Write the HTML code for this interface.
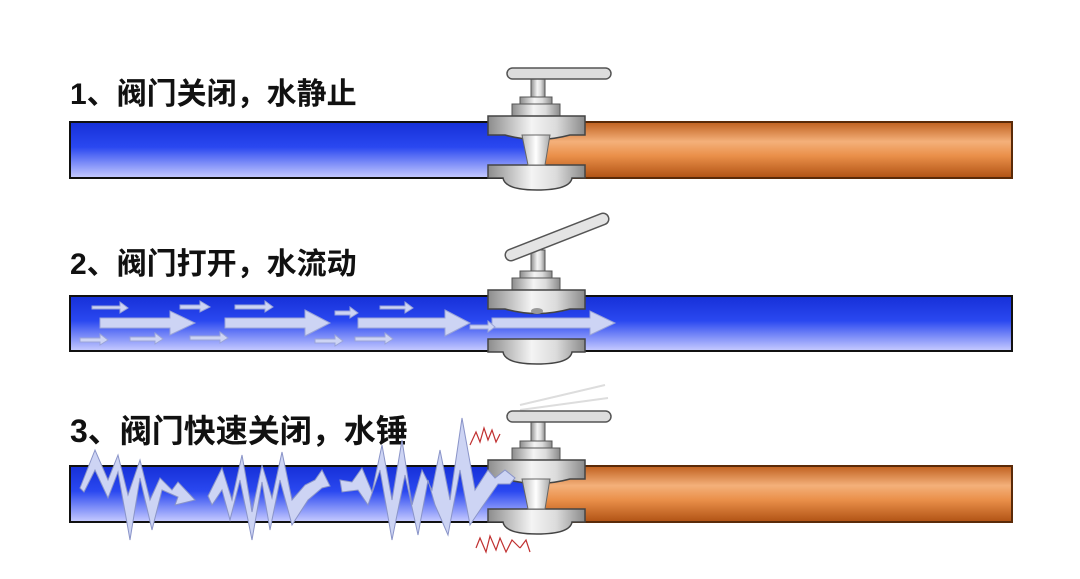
<!DOCTYPE html>
<html><head><meta charset="utf-8"><style>
html,body{margin:0;padding:0;background:#fff;}
svg{display:block}
text{font-family:"Liberation Sans","Noto Sans CJK SC",sans-serif;font-weight:bold;font-size:30px;fill:#111}
</style></head><body>
<svg width="1080" height="579" viewBox="0 0 1080 579" xmlns="http://www.w3.org/2000/svg">
<defs>
<linearGradient id="bl" x1="0" y1="0" x2="0" y2="1">
<stop offset="0" stop-color="#1630d8"/><stop offset="0.45" stop-color="#2a48f0"/><stop offset="1" stop-color="#c8ccff"/></linearGradient>
<linearGradient id="or" x1="0" y1="0" x2="0" y2="1">
<stop offset="0" stop-color="#c0601e"/><stop offset="0.35" stop-color="#f4b07a"/><stop offset="0.6" stop-color="#ea904a"/><stop offset="1" stop-color="#b05214"/></linearGradient>
<linearGradient id="st" x1="0" y1="0" x2="1" y2="0">
<stop offset="0" stop-color="#8c8c8c"/><stop offset="0.45" stop-color="#f4f4f4"/><stop offset="0.7" stop-color="#dcdcdc"/><stop offset="1" stop-color="#8a8a8a"/></linearGradient>
<linearGradient id="gt" x1="0" y1="0" x2="1" y2="0">
<stop offset="0" stop-color="#bbb"/><stop offset="0.5" stop-color="#fff"/><stop offset="1" stop-color="#aaa"/></linearGradient>
<g id="valve">
<rect x="520" y="-25" width="32" height="7" fill="url(#st)" stroke="#555"/>
<rect x="512" y="-18" width="48" height="12" fill="url(#st)" stroke="#555"/>
<path d="M488,-6 H585 V13 H570 Q537,22 505,13 H488 Z" fill="url(#st)" stroke="#444" stroke-width="1.5"/>
<path d="M488,43 H585 V56 H572 Q570,68 537,68 Q505,68 503,56 H488 Z" fill="url(#st)" stroke="#444" stroke-width="1.5"/>
</g>
<g id="gate"><path d="M522,13 H550 L545,43 H528 Z" fill="url(#gt)" stroke="#666"/></g>
</defs>

<text x="70" y="104">1、阀门关闭，水静止</text>
<text x="70" y="274">2、阀门打开，水流动</text>
<text x="70" y="442" style="font-size:32px">3、阀门快速关闭，水锤</text>

<!-- pipe 1 -->
<rect x="70" y="122" width="460" height="56" fill="url(#bl)" stroke="#111" stroke-width="2"/>
<rect x="540" y="122" width="472" height="56" fill="url(#or)" stroke="#5a2a08" stroke-width="2"/>
<rect x="531" y="78" width="14" height="20" fill="url(#st)" stroke="#555"/>
<rect x="507" y="68" width="104" height="11" rx="5.5" fill="#ddd" stroke="#555" stroke-width="1.5"/>
<use href="#valve" transform="translate(0,122)"/>
<use href="#gate" transform="translate(0,122)"/>

<!-- pipe 2 -->
<rect x="70" y="296" width="942" height="55" fill="url(#bl)" stroke="#111" stroke-width="2"/>
<rect x="531" y="250" width="14" height="22" fill="url(#st)" stroke="#555"/>
<line x1="511" y1="255" x2="603" y2="219" stroke="#555" stroke-width="13" stroke-linecap="round"/>
<line x1="511" y1="255" x2="603" y2="219" stroke="#e4e4e4" stroke-width="10" stroke-linecap="round"/>
<use href="#valve" transform="translate(0,296)"/>
<ellipse cx="537" cy="311" rx="6" ry="3" fill="#999"/>
<g fill="#cdd4f4" stroke="#9aa4d8" stroke-width="1">
<path d="M100,318 H170 V311 L195,323 L170,335 V328 H100 Z"/>
<path d="M225,318 H305 V310 L330,323 L305,336 V328 H225 Z"/>
<path d="M358,318 H445 V310 L470,323 L445,336 V328 H358 Z"/>
<path d="M492,318 H590 V311 L615,323 L590,335 V328 H492 Z"/>
<path d="M92,306 H120 V302 L128,308 L120,313 V309 H92 Z"/>
<path d="M180,305 H200 V301 L210,307 L200,312 V309 H180 Z"/>
<path d="M235,305 H265 V301 L273,307 L265,312 V309 H235 Z"/>
<path d="M335,311 H350 V307 L358,313 L350,318 V315 H335 Z"/>
<path d="M380,306 H405 V302 L413,308 L405,313 V309 H380 Z"/>
<path d="M470,325 H488 V321 L495,327 L488,332 V329 H470 Z"/>
<path d="M80,338 H100 V334 L108,340 L100,345 V342 H80 Z"/>
<path d="M130,337 H155 V333 L163,339 L155,344 V341 H130 Z"/>
<path d="M190,336 H220 V332 L228,338 L220,343 V340 H190 Z"/>
<path d="M315,339 H335 V335 L343,341 L335,346 V343 H315 Z"/>
<path d="M355,337 H385 V333 L393,339 L385,344 V341 H355 Z"/>
</g>

<!-- pipe 3 -->
<rect x="70" y="466" width="460" height="56" fill="url(#bl)" stroke="#111" stroke-width="2"/>
<rect x="540" y="466" width="472" height="56" fill="url(#or)" stroke="#5a2a08" stroke-width="2"/>
<rect x="531" y="421" width="14" height="20" fill="url(#st)" stroke="#555"/>
<line x1="520" y1="405" x2="605" y2="385" stroke="#ddd" stroke-width="2"/>
<line x1="520" y1="410" x2="608" y2="398" stroke="#ddd" stroke-width="2"/>
<rect x="507" y="411" width="104" height="11" rx="5.5" fill="#ddd" stroke="#555" stroke-width="1.5"/>
<use href="#valve" transform="translate(0,466)"/>
<use href="#gate" transform="translate(0,466)"/>
<g fill="#cdd4f4" stroke="#8a94c8" stroke-width="1">
<path d="M80,488 L95,450 L108,480 L118,455 L128,495 L140,460 L150,500 L160,478 L172,490 L178,482 L195,500 L175,505 L178,497 L162,490 L152,530 L140,478 L130,540 L118,472 L108,498 L95,470 L84,492 Z"/>
<path d="M208,496 L222,468 L232,500 L242,455 L252,512 L262,465 L272,498 L282,452 L292,500 L305,485 L315,480 L322,470 L330,486 L322,488 L308,500 L292,525 L280,480 L270,530 L262,482 L252,540 L240,480 L230,520 L222,490 L212,505 Z"/>
<path d="M340,480 L352,482 L362,468 L372,492 L382,445 L392,500 L402,440 L412,505 L422,470 L432,490 L440,450 L450,500 L462,418 L475,490 L488,470 L495,478 L505,470 L515,478 L510,484 L498,484 L480,510 L470,525 L460,470 L448,535 L435,505 L428,480 L418,535 L405,475 L392,540 L380,470 L368,505 L358,490 L342,492 Z"/>
</g>
<g fill="none" stroke="#c03030" stroke-width="1.2">
<path d="M470,445 L476,432 L480,442 L484,428 L488,440 L492,430 L496,442 L500,434"/>
<path d="M476,548 L480,538 L486,552 L490,536 L496,550 L500,538 L506,552 L512,540 L520,548"/>
<path d="M520,548 L526,540 L530,552"/>
</g>
</svg>
</body></html>
